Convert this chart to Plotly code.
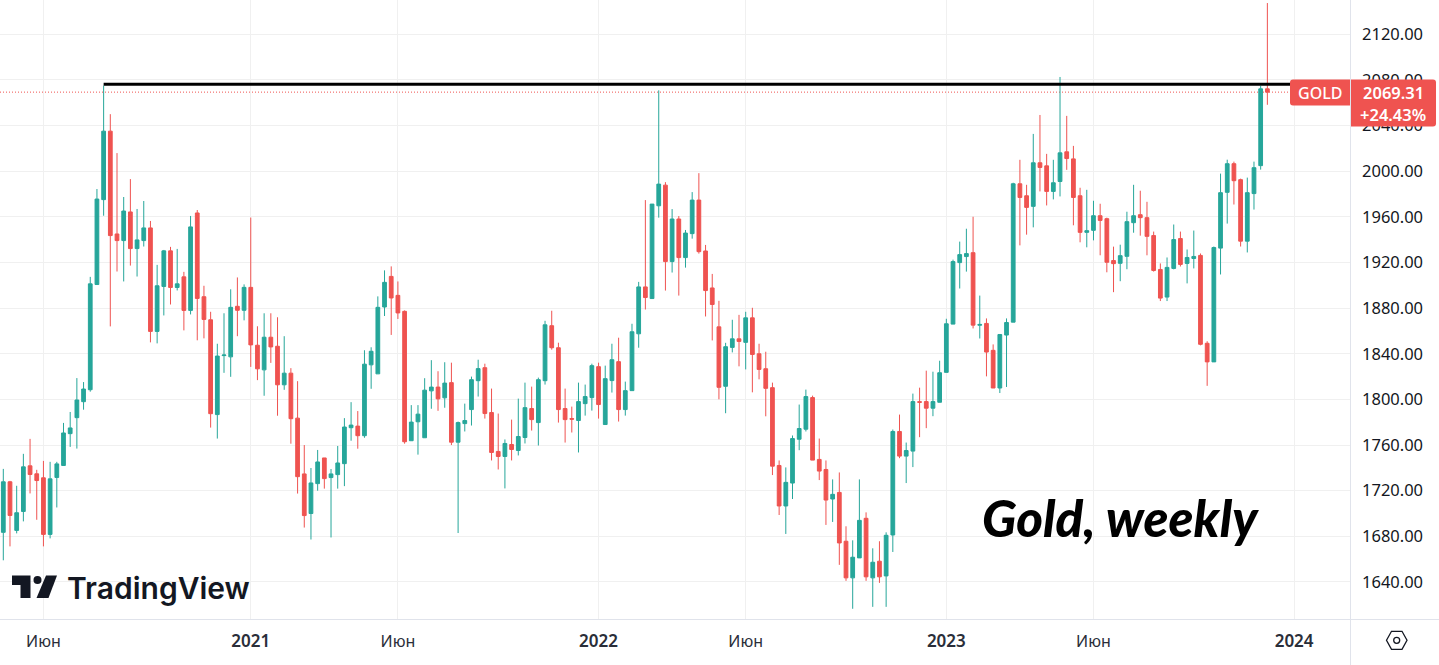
import pandas as pd
import plotly.graph_objects as go

# weekly gold candles
first_week = '2020-04-20'
opens = [1683.5,1727.8,1685.2,1701.8,1741.8,1734.8,1731.3,1681.7,1731.6,1742.1,
         1770,1784,1798,1808.5,1900.7,1975.1,2035.1,1945,1939.2,1964.3,
         1932.2,1939.2,1950.3,1859.6,1899,1930.2,1898.1,1907.4,1878,1963.4,
         1890,1869.8,1786.7,1838.4,1837.3,1881.6,1878.1,1898.2,1847.5,1825.9,
         1854.5,1846.6,1812.8,1823,1783.6,1734.7,1700,1726.2,1748.7,1731.5,
         1734.1,1743.7,1775.2,1776.6,1768.2,1830.3,1822.4,1881,1907.8,1891.2,
         1877.2,1763.8,1780.4,1766.4,1807.5,1810.8,1801.4,1814.7,1762.5,1778.8,
         1791.1,1816.4,1827.8,1788.5,1754.4,1750,1760.5,1755.2,1766.6,1792,
         1779.7,1816.4,1864.6,1845.3,1792,1783.2,1781.5,1796.3,1801.6,1828.7,
         1778,1816.5,1833.1,1791.1,1807.7,1857.5,1898.6,1888.4,1969.7,1987.8,
         1920.8,1958.1,1924.3,1945.3,1974.7,1930.1,1897.7,1863.6,1811.5,1845.6,
         1853.1,1850,1871.5,1840,1826.9,1810.3,1742.1,1706.6,1726.7,1765.1,
         1773.9,1801.6,1747.4,1738.6,1712.7,1718.5,1675.7,1643.6,1661.1,1695.8,
         1643.6,1658.2,1645.3,1681.2,1771.9,1750.3,1754.7,1798,1798.1,1792.3,
         1797.5,1823.7,1866,1919.9,1925.2,1928.6,1865,1866.6,1843,1810,
         1856.4,1867.7,1989,1978.5,1969.2,2007.4,2004.7,1982.3,1991,2017,
         2010.8,1978.5,1946.4,1948.2,1961,1958.4,1921.7,1919.3,1925.4,1954.9,
         1961.9,1959.3,1943.6,1913.9,1889.7,1914.8,1941,1919.2,1923.5,1926.2,
         1849.2,1832.9,1932.6,1981.5,2006.6,1992.6,1938.7,1980.4,2004.9,2072.2]
closes = [1727.8,1698.3,1700.7,1740.9,1734.2,1728.9,1681.7,1730.4,1743.5,1770.6,
          1775,1799.5,1809.1,1901.3,1975.6,2035.1,1943.6,1939.2,1965.1,1932.2,
          1939.8,1950.3,1859.6,1899.6,1930.2,1898.1,1901.3,1878,1951.2,1888.5,
          1870.1,1787.5,1838,1838.9,1880.7,1878.1,1898.2,1847.8,1826.8,1854.5,
          1846,1812.8,1823,1783.1,1732.3,1698.2,1726.8,1745.2,1730.6,1734.7,
          1744.3,1775.8,1777.5,1768.2,1830.9,1842.2,1880.7,1902.6,1888.9,1875.8,
          1762.9,1780.1,1787.1,1808.1,1810.8,1800.5,1814.3,1762.5,1779.7,1781.5,
          1817.3,1827,1787.6,1753.5,1750,1761.4,1756.1,1767.5,1792.8,1782.3,
          1817.3,1865.4,1845.3,1791.1,1782.3,1782.7,1798.1,1802.5,1829.6,1795.5,
          1818.2,1834.8,1791.1,1807.7,1859.3,1898.6,1889.3,1971.2,1988.7,1920.8,
          1958.1,1924.3,1945.8,1974.7,1929.5,1895.4,1883.2,1810.6,1846.2,1853.1,
          1850.8,1871.5,1839.4,1826.3,1809.7,1741.5,1706.6,1727.3,1765.7,1774.5,
          1802.5,1746.8,1737.2,1711.8,1716.8,1674.2,1643.6,1661.7,1694,1644.5,
          1657.3,1644.5,1680.9,1771.9,1750.3,1755.2,1798.1,1797.5,1792.3,1798.1,
          1823.4,1866.3,1920.8,1926.9,1927.8,1865.1,1865.7,1841.5,1810,1856.9,
          1867.4,1989,1977,1968.3,2007.4,2003.3,1982.3,1989.9,2016.1,2011.1,
          1977,1946.4,1947.9,1961,1956.9,1920.2,1919,1926,1955.8,1961,
          1959.3,1942.9,1913,1888.8,1915.7,1940.1,1918.3,1924.4,1925.3,1848.3,
          1832.9,1933.1,1981.2,2006.6,1991.7,1938.7,1981.2,2003.1,2072.2,2069.31]
highs = [1739.1,1728.6,1724.3,1752.3,1765.4,1738.3,1746.1,1745.3,1745.3,1779.4,
         1789,1818.7,1815.2,1907.4,1984.4,2075,2050,2015.9,1977.4,1993.1,
         1966.9,1973.9,1956.4,1917.9,1931,1933.7,1931.9,1911.8,1960.8,1966,
         1899.6,1876.8,1848.8,1875.5,1896.5,1906.9,1900.8,1959.4,1864.1,1875.5,
         1875.5,1872,1855.4,1827.4,1816,1760,1739.9,1755.7,1748.7,1739,
         1759.2,1783.6,1797.6,1789.8,1843.1,1845.7,1890.3,1913.1,1916.6,1903.4,
         1878,1795,1795,1818.6,1834.4,1824.7,1832.6,1832.2,1780.6,1796.3,
         1820,1834.8,1831.3,1809.5,1787.6,1764.9,1782.3,1800.7,1814.7,1811.2,
         1819.1,1868.9,1877.7,1849.7,1809.5,1793.7,1814.7,1813,1831.3,1832.2,
         1829.6,1848.8,1854.1,1815.6,1866.3,1903,1974.7,1971.2,2070.9,1990.4,
         1966.8,1960.7,1948.5,1981.7,1998.3,1935.4,1910,1886.4,1849.6,1869.8,
         1874.1,1876.8,1880.3,1848.8,1841.8,1814.7,1746.5,1740.4,1768.4,1795.5,
         1808.6,1803.3,1765.7,1746.5,1729.9,1736,1688.8,1676.5,1729.9,1701,
         1669.5,1675.7,1683.5,1773.6,1786.7,1762.2,1805.1,1810.3,1825.2,1824.3,
         1833.9,1870.7,1922.5,1938.3,1949.6,1960.1,1891,1871,1848.2,1856.9,
         1871,1989.9,2010,1988.1,2032.7,2049.3,2015.2,2010,2082.6,2048.5,
         2022.2,1985.5,1983.7,1974.1,1971.5,1959.3,1933.9,1935.6,1964.5,1988.1,
         1982.9,1973.2,1947.1,1919.2,1924.4,1953.3,1947.1,1931.4,1948,1927.9,
         1851,1934,1997.9,2010.1,2008.4,1993.5,1994.4,2008.4,2074.8,2147.4]
lows = [1659,1671.2,1682.6,1693.1,1717.6,1694.5,1671.2,1678.2,1705.3,1742.1,
        1758.4,1756.9,1791,1806.8,1900.7,1961,1864,1912.1,1903.4,1917.3,
        1907.7,1934,1850,1849.1,1873.6,1883.2,1895.5,1860.5,1874.5,1851.8,
        1853.5,1775.3,1765.7,1823.3,1819.8,1855.4,1869.3,1828.5,1816.9,1803.2,
        1832,1785.7,1808.4,1761.2,1717.5,1687.7,1677.2,1720,1721.8,1679,
        1721.8,1724,1763.8,1756.8,1766.4,1809.3,1822.4,1873.1,1856.5,1870.5,
        1761.2,1763.8,1751.6,1766.4,1791.8,1790,1792.7,1760,1682.9,1771.9,
        1777.1,1802.5,1783.2,1746.5,1738.6,1722,1746.5,1750.9,1761.4,1772.7,
        1759.6,1813,1843.6,1779.7,1762.2,1771,1753.5,1785.8,1790.2,1783.2,
        1778,1806,1780.6,1785.8,1807.7,1845.3,1878.8,1888.4,1959.3,1895.4,
        1911.2,1891,1915.5,1940.9,1927.8,1872.7,1851.7,1800.1,1787.9,1841.2,
        1829,1826.3,1806.2,1817.6,1785.2,1733.7,1698.7,1682.1,1712.7,1755.5,
        1771.9,1746.8,1729.3,1690,1692.6,1655,1641,1616.5,1661.1,1641,
        1618.2,1639.2,1618.2,1666.3,1748.5,1726.7,1740.7,1766.9,1774.8,1785.3,
        1797.5,1823.7,1866,1897.2,1912,1862.2,1853.4,1820.2,1810,1805.6,
        1810.9,1867.7,1935,1944.4,1950.8,1982.3,1970,1975.3,1977.9,2001.2,
        1952.6,1937.7,1933.3,1939.4,1926.3,1911.4,1894,1903.6,1914.1,1946.1,
        1943.5,1926.3,1912,1886.2,1886.2,1914,1916.5,1901.7,1914.8,1847.4,
        1811.9,1832.9,1909.5,1954.1,1970.8,1934,1928.8,1966.4,2001.4,2058.2]

YEAR = '<span style="font-weight:600;font-size:17px">%s</span>'
tick_dates = ['2020-06-01','2021-01-04','2021-06-07','2022-01-03','2022-06-06','2023-01-02','2023-06-05','2024-01-01']
tick_names = ['Июн',YEAR % '2021','Июн',YEAR % '2022','Июн',YEAR % '2023','Июн',YEAR % '2024']
price_ticks = [1640,1680,1720,1760,1800,1840,1880,1920,1960,2000,2040,2080,2120]
resistance = 2076.2
last_price = 2069.31

UP = '#26a69a'
DOWN = '#ef5350'
INK = '#131722'
GRID = '#f0f0f0'
BORDER = '#e0e3eb'
FONT = 'Noto Sans'

PLOT_W, PLOT_H = 1351, 619

# screen pixels to paper coords, for the chrome around the chart
def px(x):
    return x / PLOT_W

def py(y):
    return 1 - y / PLOT_H

def poly(points):
    return 'M' + ' L'.join(f'{px(x)},{py(y)}' for x, y in points) + ' Z'

def tag_path(x0, y0, x1, y1, r, left):
    if left:
        return (f'M{px(x1)},{py(y0)} L{px(x0+r)},{py(y0)} Q{px(x0)},{py(y0)} {px(x0)},{py(y0+r)} '
                f'L{px(x0)},{py(y1-r)} Q{px(x0)},{py(y1)} {px(x0+r)},{py(y1)} L{px(x1)},{py(y1)} Z')
    return (f'M{px(x0)},{py(y0)} L{px(x1-r)},{py(y0)} Q{px(x1)},{py(y0)} {px(x1)},{py(y0+r)} '
            f'L{px(x1)},{py(y1-r)} Q{px(x1)},{py(y1)} {px(x1-r)},{py(y1)} L{px(x0)},{py(y1)} Z')

weeks = pd.date_range(first_week, periods=len(opens), freq='7D')

fig = go.Figure(go.Candlestick(
    x=weeks, open=opens, high=highs, low=lows, close=closes,
    increasing=dict(line=dict(color=UP, width=1), fillcolor=UP),
    decreasing=dict(line=dict(color=DOWN, width=1), fillcolor=DOWN),
    whiskerwidth=0, hoverinfo='skip', showlegend=False,
))

paper = dict(xref='paper', yref='paper')
shapes = [
    # last price and resistance
    dict(type='line', xref='paper', yref='y', x0=0, x1=px(1291), y0=last_price, y1=last_price,
         line=dict(color=DOWN, width=1, dash='1px,2px'), layer='below'),
    dict(type='line', xref='x', yref='y', x0='2020-08-03', x1='2023-12-29', y0=resistance, y1=resistance,
         line=dict(color='black', width=3)),
    # axis borders, running out to the window edge
    dict(type='line', **paper, x0=0, x1=px(1439), y0=py(619.5), y1=py(619.5), line=dict(color=BORDER, width=1)),
    dict(type='line', **paper, x0=px(1350.5), x1=px(1350.5), y0=py(0), y1=py(665), line=dict(color=BORDER, width=1)),
    # price tags
    dict(type='path', **paper, path=tag_path(1290, 79.5, 1350, 105.5, 3, True), fillcolor=DOWN, line_width=0),
    dict(type='path', **paper, path=tag_path(1351, 79.5, 1436, 126.5, 3, False), fillcolor=DOWN, line_width=0),
    # TradingView mark
    dict(type='path', **paper, path=poly([(12, 575.5), (30.5, 575.5), (30.5, 598), (20.5, 598), (20.5, 585), (12, 585)]),
         fillcolor=INK, line_width=0),
    dict(type='circle', **paper, x0=px(33.5), x1=px(41.5), y0=py(584), y1=py(576), fillcolor=INK, line_width=0),
    dict(type='path', **paper, path=poly([(46, 575.5), (57, 575.5), (48.5, 598), (36.5, 598)]),
         fillcolor=INK, line_width=0),
    # settings button
    dict(type='path', **paper,
         path=poly([(1386.5, 640.3), (1391.5, 631.3), (1402, 631.3), (1407, 640.3), (1402, 649.3), (1391.5, 649.3)]),
         fillcolor='white', line=dict(color=INK, width=1.3)),
    dict(type='circle', **paper, x0=px(1393.7), x1=px(1399.7), y0=py(643.3), y1=py(637.3),
         fillcolor='white', line=dict(color=INK, width=1.3)),
]

annotations = [
    dict(text='GOLD', x=px(1320), y=py(93), font=dict(family=FONT, size=16, color='white', weight=500)),
    dict(text=f'{last_price:.2f}', x=px(1393), y=py(93), font=dict(family=FONT, size=16.5, color='white', weight=600)),
    dict(text='+24.43%', x=px(1393), y=py(114.5), font=dict(family=FONT, size=16.5, color='white', weight=600)),
    dict(text='Gold, weekly', x=px(1120), y=py(517), font=dict(family='Lato', size=51, color='black', weight=900, style='italic')),
    dict(text='TradingView', x=px(158), y=py(588), font=dict(family='Inter', size=30, color=INK, weight=600)),
]
for a in annotations:
    a.update(xref='paper', yref='paper', showarrow=False, xanchor='center', yanchor='middle')

fig.update_layout(
    width=1439, height=665, autosize=False,
    margin=dict(l=0, r=1439 - PLOT_W, t=0, b=665 - PLOT_H, pad=0),
    paper_bgcolor='white', plot_bgcolor='white',
    boxmode='overlay', boxgap=0.2,
    showlegend=False, dragmode=False,
    shapes=shapes, annotations=annotations,
    font=dict(family=FONT, color=INK),
)
fig.update_xaxes(
    type='date', range=['2020-04-16 13:00', '2024-02-29 13:00'],
    tickmode='array', tickvals=tick_dates, ticktext=tick_names, tickangle=0,
    tickfont=dict(family=FONT, size=16, color='#2a2e39'), ticks='', ticklabelstandoff=11,
    showgrid=True, gridcolor=GRID, gridwidth=1, zeroline=False, showline=False,
    rangeslider_visible=False,
)
fig.update_yaxes(
    side='right', range=[1607.55, 2150.06],
    tickmode='array', tickvals=price_ticks, tickformat='.2f',
    tickfont=dict(family=FONT, size=16.5, color=INK), ticks='', ticklabelstandoff=10,
    showgrid=True, gridcolor=GRID, gridwidth=1, zeroline=False, showline=False,
)

fig.write_html('out.html', config=dict(displayModeBar=False),
               post_script="document.body.style.margin='0';")
